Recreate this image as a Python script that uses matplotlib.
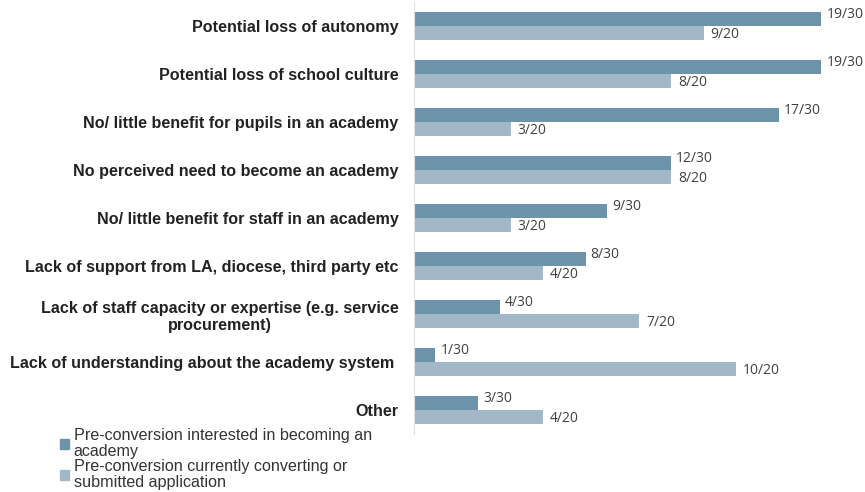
import numpy as np
import matplotlib
matplotlib.use("Agg")
import matplotlib.pyplot as plt
from matplotlib.patches import Patch

categories = [
    "Potential loss of autonomy",
    "Potential loss of school culture",
    "No/ little benefit for pupils in an academy",
    "No perceived need to become an academy",
    "No/ little benefit for staff in an academy",
    "Lack of support from LA, diocese, third party etc",
    "Lack of staff capacity or expertise (e.g. service\nprocurement)",
    "Lack of understanding about the academy system ",
    "Other",
]
interested_n = [19, 19, 17, 12, 9, 8, 4, 1, 3]
interested_total = 30
converting_n = [9, 8, 3, 8, 3, 4, 7, 10, 4]
converting_total = 20
series_names = [
    "Pre-conversion interested in becoming an\nacademy",
    "Pre-conversion currently converting or\nsubmitted application",
]

dark = "#6d93aa"
light = "#a2b8c6"

interested_pct = [100 * n / interested_total for n in interested_n]
converting_pct = [100 * n / converting_total for n in converting_n]

fig = plt.figure(figsize=(8.65, 4.92), dpi=100)
ax = fig.add_axes([414 / 865, 1 - 434 / 492, 451 / 865, 432 / 492])

y = np.arange(len(categories))
h = 0.285
ax.barh(y - h / 2, interested_pct, height=h, color=dark)
ax.barh(y + h / 2, converting_pct, height=h, color=light)

for yi, v, n in zip(y, interested_pct, interested_n):
    ax.annotate(f"{n}/{interested_total}", (v, yi - h / 2), xytext=(3.5, 3),
                textcoords="offset points", va="center", ha="left",
                fontsize=10, color="#404040", family="Open Sans")
for yi, v, n in zip(y, converting_pct, converting_n):
    ax.annotate(f"{n}/{converting_total}", (v, yi + h / 2), xytext=(5, -1),
                textcoords="offset points", va="center", ha="left",
                fontsize=10, color="#404040", family="Open Sans")

ax.set_xlim(0, 70.1)
ax.set_ylim(8.5, -0.5)
ax.set_yticks(y)
ax.set_yticklabels(categories, fontsize=11.6, fontweight="bold",
                   family="Liberation Sans", color="#222222")
for t in ax.get_yticklabels():
    t.set_multialignment("center")
ax.tick_params(axis="y", length=0, pad=11)
ax.set_xticks([])
for side in ["top", "right", "bottom"]:
    ax.spines[side].set_visible(False)
ax.spines["left"].set_color("#e0e0e0")

handles = [Patch(color=dark), Patch(color=light)]
leg = fig.legend(handles, series_names, loc="upper left",
                 bbox_to_anchor=(52 / 865, 1 - 420 / 492), frameon=False,
                 handlelength=0.55, handleheight=0.55, handletextpad=0.3,
                 labelspacing=0.0, borderpad=0,
                 prop={"family": "Liberation Sans", "size": 11.6})
for t in leg.get_texts():
    t.set_linespacing(1.1)
    t.set_color("#333333")

fig.savefig("out.png", dpi=100)
